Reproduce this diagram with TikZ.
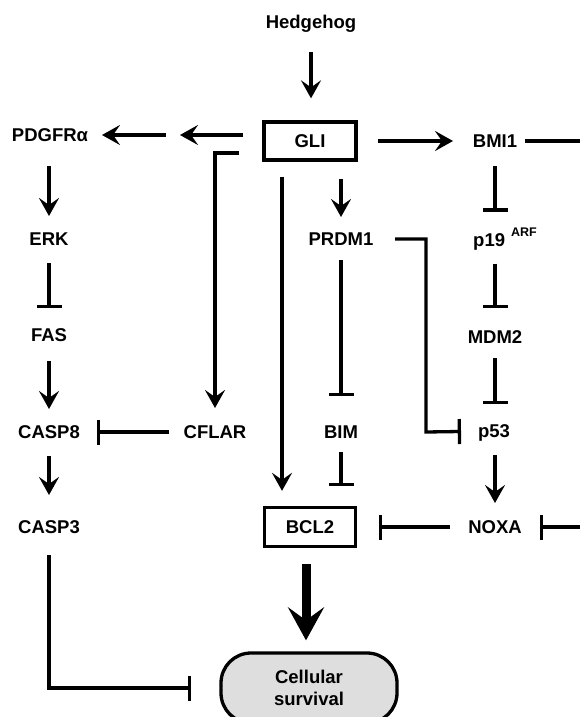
\documentclass[tikz,border=0pt]{standalone}
\usepackage{fontspec}
\setmainfont{Liberation Sans}
\usetikzlibrary{arrows.meta}
\definecolor{survgray}{RGB}{222,222,222}
\begin{document}
\begin{tikzpicture}[x=1pt,y=-1pt,
  lbl/.style={font=\fontsize{18.5}{21}\selectfont\bfseries, inner sep=0pt, text height=13pt, text depth=0pt},
  box/.style={lbl, draw, line width=3.3pt, minimum width=92pt, minimum height=38pt},
  survbox/.style={draw, line width=3.3pt, fill=survgray, rounded corners=30pt, minimum width=176pt, minimum height=70pt, inner sep=0pt, align=center, font=\fontsize{18.5}{22}\selectfont\bfseries},
  conn/.style={line width=3.3pt},
  act/.style={conn, -{Stealth[length=18pt,width=20pt,inset=7pt]}},
  inh/.style={conn, -{Bar[width=25pt]}},
  big/.style={line width=9pt, -{Stealth[length=33pt,width=36pt,inset=13pt]}}
  ]
\useasboundingbox (0,0) rectangle (580,717);
% nodes
\node[lbl] (hh) at (311,22) {Hedgehog};
\node[box] (gli) at (310,141) {GLI};
\node[lbl] (pdg) at (50,135) {PDGFRα};
\node[lbl] (erk) at (49,239) {ERK};
\node[lbl] (fas) at (49,335) {FAS};
\node[lbl] (casp8) at (49,432) {CASP8};
\node[lbl] (casp3) at (49,527) {CASP3};
\node[lbl] (cflar) at (215,432) {CFLAR};
\node[lbl] (prdm1) at (341,239) {PRDM1};
\node[lbl] (bim) at (341,432) {BIM};
\node[lbl] (bmi1) at (495,141) {BMI1};
\node[lbl, anchor=base west, text height=, text depth=] (p19) at (473,246.5) {p19\hspace{6pt}\raisebox{10pt}{\fontsize{12.5}{13}\selectfont ARF}};
\node[lbl] (mdm2) at (495,337) {MDM2};
\node[lbl] (p53) at (494,431) {p53};
\node[lbl] (noxa) at (495,527) {NOXA};
\node[box, minimum width=91pt, minimum height=39pt] (bcl2) at (310,527) {BCL2};
\node[survbox] (surv) at (309,688) {Cellular\\survival};
% helper coordinates
\coordinate (mid) at (173,135);
\coordinate (pk) at (426,432);
\coordinate (e1) at (585,141);
\coordinate (e2) at (585,527);
% connectors
\draw[act, shorten <=30pt, shorten >=22pt] (hh.center) -- (hh |- gli.north);
\draw[act, shorten <=19pt, shorten >=7pt] (gli.west |- pdg) -- (mid);
\draw[act, shorten <=7pt, shorten >=52pt] (mid) -- (pdg.center);
\draw[act, shorten <=23pt, shorten >=24pt] ([yshift=-12pt]gli.west) -| (cflar.center);
\draw[act, shorten <=15pt, shorten >=15pt] ([xshift=-28pt]gli.south) -- ([xshift=-28pt]bcl2.north);
\draw[act, shorten <=17pt, shorten >=22pt] ([xshift=31pt]gli.south) -- (prdm1.center);
\draw[act, shorten <=20pt, shorten >=42pt] (gli.east) -- (bmi1.center);
\draw[inh, shorten <=30pt, shorten >=45pt] (bmi1.center) -- (e1) -- (e2) -- (noxa.center);
\draw[act, shorten <=31pt, shorten >=23pt] (pdg.center -| erk) -- (erk.center);
\draw[inh, shorten <=24pt, shorten >=27pt] (erk.center) -- (fas.center);
\draw[act, shorten <=26pt, shorten >=23pt] (fas.center) -- (casp8.center);
\draw[inh, shorten <=46pt, shorten >=48pt] (cflar.center) -- (casp8.center);
\draw[act, shorten <=24pt, shorten >=32pt] (casp8.center) -- (casp3.center);
\draw[inh, shorten <=28pt, shorten >=28pt] (casp3.center) |- (surv.west);
\draw[inh, shorten <=21pt, shorten >=36pt] (prdm1.center) -- (bim.center);
\draw[inh, shorten <=54pt, shorten >=33pt] (prdm1.center) -| (pk) -- (p53.center);
\draw[inh, shorten <=20pt, shorten >=20pt] (bim.center) -- ([xshift=31pt]bcl2.north);
\draw[inh, shorten <=25pt, shorten >=35pt] (bmi1.center) -- (bmi1 |- p19.base);
\draw[inh, shorten <=17pt, shorten >=29pt] (bmi1 |- p19.base) -- (mdm2.center);
\draw[inh, shorten <=21pt, shorten >=27pt] (mdm2.center) -- (mdm2 |- p53);
\draw[act, shorten <=24pt, shorten >=24pt] (noxa |- p53) -- (noxa.center);
\draw[inh, shorten <=45pt, shorten >=22pt] (noxa.center) -- (bcl2.east);
\draw[big, shorten <=16pt, shorten >=11pt] ([xshift=-4pt]bcl2.south) -- ([xshift=-3pt]surv.north);
\end{tikzpicture}
\end{document}
